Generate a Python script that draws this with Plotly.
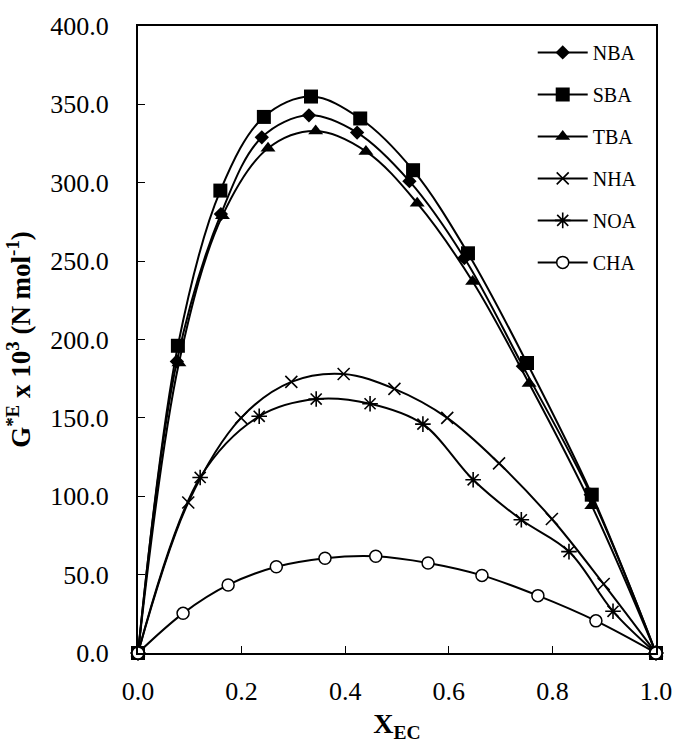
import plotly.graph_objects as go

series_names = ["NBA", "SBA", "TBA", "NHA", "NOA", "CHA"]

nba_x = [0.0, 0.075, 0.160, 0.239, 0.330, 0.423, 0.524, 0.630, 0.743, 0.874, 1.0]
nba_y = [0.0, 186, 280, 329, 343, 332, 301, 252, 183, 101, 0.0]

sba_x = [0.0, 0.077, 0.159, 0.243, 0.334, 0.429, 0.531, 0.637, 0.751, 0.876, 1.0]
sba_y = [0.0, 196, 295, 342, 355, 341, 308, 255, 185, 101, 0.0]

tba_x = [0.0, 0.079, 0.163, 0.251, 0.343, 0.440, 0.539, 0.646, 0.755, 0.876, 1.0]
tba_y = [0.0, 185, 279, 322, 333, 320, 287, 237, 172, 94, 0.0]

nha_x = [0.0, 0.097, 0.199, 0.296, 0.397, 0.495, 0.597, 0.697, 0.799, 0.899, 1.0]
nha_y = [0.0, 96, 150, 173, 178, 168.5, 150, 121, 85.5, 44, 0.0]

noa_x = [0.0, 0.120, 0.234, 0.344, 0.448, 0.550, 0.647, 0.740, 0.832, 0.917, 1.0]
noa_y = [0.0, 112, 151, 162, 159, 146, 110.5, 85, 64.7, 26.6, 0.0]

cha_x = [0.0, 0.087, 0.174, 0.267, 0.361, 0.459, 0.560, 0.664, 0.772, 0.884, 1.0]
cha_y = [0.0, 25.3, 43.4, 55, 60.5, 61.7, 57.4, 49.5, 36.6, 20.5, 0.0]

x_ticks = [0.0, 0.2, 0.4, 0.6, 0.8, 1.0]
y_ticks = [0, 50, 100, 150, 200, 250, 300, 350, 400]

data = [
    (nba_x, nba_y, dict(symbol="diamond", size=11, color="black")),
    (sba_x, sba_y, dict(symbol="square", size=14, color="black")),
    (tba_x, tba_y, dict(symbol="triangle-up", size=13, color="black")),
    (nha_x, nha_y, dict(symbol="x-thin", size=12, color="black", line=dict(color="black", width=1.6))),
    (noa_x, noa_y, dict(symbol="asterisk", size=13, color="black", line=dict(color="black", width=1.6))),
    (cha_x, cha_y, dict(symbol="circle", size=12, color="white", line=dict(color="black", width=1.5))),
]

fig = go.Figure()
for name, (xs, ys, mk) in zip(series_names, data):
    fig.add_trace(go.Scatter(
        x=xs, y=ys, name=name, mode="lines+markers",
        line=dict(color="black", width=2, shape="spline", smoothing=1.0),
        marker=mk, cliponaxis=False, legendgroup=name,
    ))

serif = "Liberation Serif, Times New Roman, serif"
fig.update_layout(
    width=684, height=756,
    margin=dict(l=138, r=21, t=21, b=103),
    paper_bgcolor="white", plot_bgcolor="white",
    font=dict(family=serif, color="black", size=26),
    showlegend=True,
    legend=dict(
        x=0.762, y=0.989, xanchor="left", yanchor="top",
        font=dict(family=serif, size=20, color="black"),
        bgcolor="rgba(0,0,0,0)", traceorder="grouped", tracegroupgap=13,
        itemwidth=50,
    ),
)
fig.update_xaxes(
    range=[0, 1], tickvals=x_ticks, tickformat=".1f",
    ticks="inside", ticklen=7, tickwidth=1, tickcolor="black",
    showline=True, linewidth=2, linecolor="black", mirror=True,
    showgrid=False, zeroline=False,
    tickfont=dict(family=serif, size=26), ticklabelstandoff=14,
    title=dict(text="<b>X<sub>EC</sub></b>", font=dict(family=serif, size=28), standoff=8),
)
fig.update_yaxes(
    range=[0, 400], tickvals=y_ticks, tickformat=".1f",
    ticks="inside", ticklen=7, tickwidth=1, tickcolor="black",
    showline=True, linewidth=2, linecolor="black", mirror=True,
    showgrid=False, zeroline=False,
    tickfont=dict(family=serif, size=26), ticklabelstandoff=22,
    title=dict(text="<b>G<sup>*E</sup> x 10<sup>3</sup> (N mol<sup>-1</sup>)</b>",
               font=dict(family=serif, size=27), standoff=12),
)

fig.write_html("out.html")
